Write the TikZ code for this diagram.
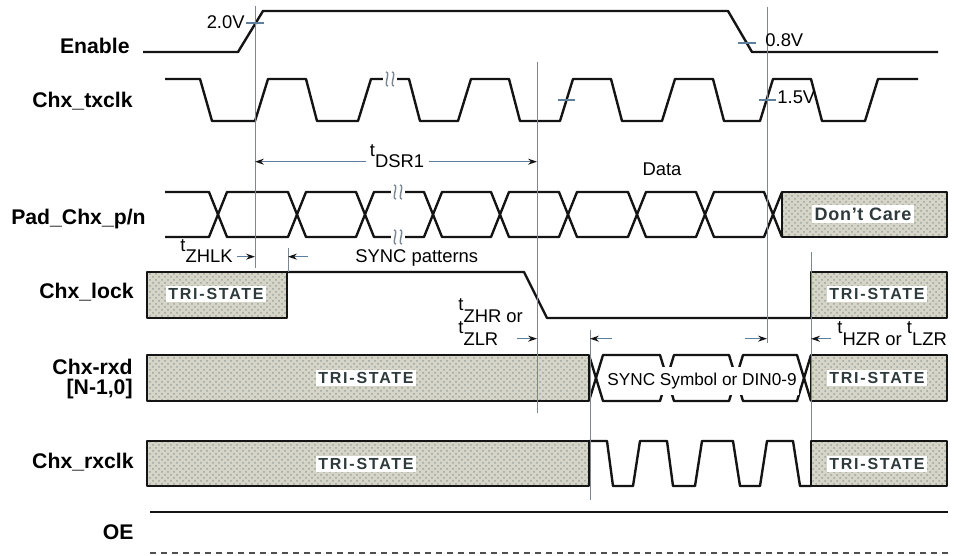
\documentclass[tikz,border=0pt]{standalone}
\usepackage{fontspec}
\setmainfont{Liberation Sans}
\usepackage{tikz}
\usetikzlibrary{arrows.meta,patterns}
\definecolor{wire}{HTML}{141414}
\definecolor{guidegray}{HTML}{7C8793}
\definecolor{dimblue}{HTML}{5E7E9E}
\definecolor{speck}{HTML}{D6D5C8}
\definecolor{speckdot}{HTML}{98A69E}
\definecolor{tristext}{HTML}{2E3A3B}
\newcommand{\tpre}[1]{\raisebox{0.6em}[0pt][0pt]{t}#1}
\newcommand{\brk}[2]{%
  \fill[white] (#1-7,#2-3) rectangle (#1+7,#2+3);
  \foreach \bx in {#1-3,#1+3}
    \draw[brkline] (\bx-1,#2-7) .. controls (\bx+4,#2-7) and (\bx-4,#2+7) .. (\bx+1,#2+7);}
\tikzset{
  sig/.style     = {draw=wire, line width=1.2pt, line join=round},
  hiz/.style     = {sig, preaction={fill=speck}, pattern=crosshatch dots, pattern color=speckdot},
  guide/.style   = {draw=guidegray, line width=0.5pt},
  lvl/.style     = {draw=dimblue, line width=0.8pt},
  brkline/.style = {draw=guidegray, line width=0.7pt},
  dim/.style     = {draw=dimblue, line width=0.6pt, -{Stealth[length=4.5pt, width=3pt, color=wire]}},
  lbl/.style     = {anchor=base east, inner sep=0pt, font={\fontsize{10.6}{10}\selectfont\bfseries}},
  txt/.style     = {inner sep=0pt, font={\fontsize{9.2}{10}\selectfont}},
  tris/.style    = {fill=white, inner sep=1.2pt, text=tristext,
                    font={\fontsize{8}{9}\selectfont\bfseries\addfontfeatures{LetterSpace=11}}},
}

\begin{document}
\begin{tikzpicture}[x=0.5pt, y=-0.5pt]
  \useasboundingbox (0,0) rectangle (954,556);

  \node[lbl] (en)   at (130,54)  {Enable};
  \node[lbl] (txc)  at (133,108) {Chx\_txclk};
  \node[lbl] (pad)  at (146,225) {Pad\_Chx\_p/n};
  \node[lbl] (lock) at (134,298) {Chx\_lock};
  \node[lbl, anchor=north east, align=right] (rxd) at (133,359) {Chx-rxd\\{[N-1,0]}};
  \node[lbl] (rxc)  at (134,468) {Chx\_rxclk};
  \node[lbl] (oe)   at (134,539) {OE};

  \draw[sig] (143,52) -- (238,52) -- (263,11) -- (728,11) -- (752,52) -- (938,52);

  \draw[sig] (165,79) -- (200,79) -- (212,121)
    foreach \r in {255,358,458,560,662,760} { -- (\r,121) -- (\r+13,79) -- (\r+51,79) -- (\r+62,121) }
    -- (865,121) -- (878,79) -- (918,79);

  \draw[sig] (165,192) -- (209,192) -- (218,214.5) -- (209,237) -- (165,237);
  \foreach \a/\b in {218/297,297/365,365/433,433/500,500/568,568/637,637/705,705/773}
    \draw[sig] (\a,214.5) -- (\a+9,192) -- (\b-9,192) -- (\b,214.5) -- (\b-9,237) -- (\a+9,237) -- cycle;
  \draw[sig] (782,192) -- (773,214.5) -- (782,237);
  \draw[hiz] (782,192) rectangle (947,237);

  \draw[hiz] (147,272) rectangle (287,318);
  \draw[sig] (287,272) -- (524,272) -- (547,318) -- (811,318);
  \draw[hiz] (811,272) rectangle (947,318);

  \draw[hiz] (147,355) rectangle (589,401);
  \draw[sig] (589,355) -- (596,378) -- (589,401);
  \foreach \a/\b in {596/667,667/736,736/804}
    \draw[sig] (\a,378) -- (\a+7,355) -- (\b-7,355) -- (\b,378) -- (\b-7,401) -- (\a+7,401) -- cycle;
  \draw[sig] (811,355) -- (804,378) -- (811,401);
  \draw[hiz] (811,355) rectangle (947,401);

  \draw[hiz] (147,441) rectangle (589,486);
  \draw[sig] (589,441) -- (607,441) -- (613,486) -- (633,486) -- (640,441) -- (667,441) -- (673,486)
    -- (695,486) -- (702,441) -- (733,441) -- (740,486) -- (760,486) -- (767,441) -- (793,441) -- (800,486) -- (811,486);
  \draw[hiz] (811,441) rectangle (947,486);

  \draw[sig] (150,512) -- (948,512);
  \draw[sig, draw=wire!75, dash pattern=on 3pt off 2.5pt] (150,553) -- (948,553);

  \foreach \n/\x/\ya/\yb in {1/255/6/268, 2/537/62/413, 3/767/7/343, 4/811/252/440, 5/590/330/500, 6/288/248/272}
    \draw[guide] (\x,\ya) coordinate (g\n) -- (\x,\yb);

  \brk{390}{79}
  \brk{398}{192}
  \brk{398}{237}

  \draw[lvl] (246,23) -- (264,23);
  \draw[lvl] (738,43) -- (756,43);
  \draw[lvl] (558,100) -- (575,100);
  \draw[lvl] (759,100) -- (776,100);
  \node[txt, anchor=base east] (v20) at (245,29) {2.0V};
  \node[txt, anchor=base west] (v08) at (765,47) {0.8V};
  \node[txt, anchor=base west] (v15) at (777,104) {1.5V};

  \node[tris, font={\fontsize{9}{10}\selectfont\bfseries\addfontfeatures{LetterSpace=4}}] (dc) at (863,214) {Don't Care};
  \node[txt, anchor=base] (data) at (662,176) {Data};
  \node[tris] (ts1) at (216,294) {TRI-STATE};
  \node[tris] (ts2) at (877,294) {TRI-STATE};
  \node[tris] (ts3) at (366,378) {TRI-STATE};
  \node[tris] (ts4) at (877,378) {TRI-STATE};
  \node[tris] (ts5) at (366,464) {TRI-STATE};
  \node[tris] (ts6) at (877,464) {TRI-STATE};
  \node[txt, fill=white, inner xsep=1pt, inner ysep=3pt, anchor=base west, font={\fontsize{8.6}{9}\selectfont}] (sym) at (605,385) {SYNC Symbol or DIN0-9};

  \node[txt, anchor=base, inner xsep=2pt] (dsr) at (397,168) {\tpre{DSR1}};
  \draw[dim] (dsr.west) -- (dsr.west -| g1);
  \draw[dim] (dsr.east) -- (dsr.east -| g2);

  \node[txt, anchor=base west, inner xsep=2pt] (zhlk) at (176,263) {\tpre{ZHLK}};
  \node[txt, anchor=base west] (syncp) at (355,263) {SYNC patterns};
  \draw[dim] (zhlk.east) -- (zhlk.east -| g1);
  \coordinate (a6) at (zhlk.east -| g6);
  \draw[dim] ([xshift=10pt]a6) -- (a6);

  \node[txt, anchor=base west] (zhr) at (458,322) {\tpre{ZHR or}};
  \node[txt, anchor=base west] (zlr) at (458,345) {\tpre{ZLR}};
  \coordinate (a2) at (zlr.east -| g2);
  \draw[dim] ([xshift=-10pt]a2) -- (a2);
  \coordinate (a5) at (zlr.east -| g5);
  \draw[dim] ([xshift=11pt]a5) -- (a5);
  \coordinate (a3) at (zlr.east -| g3);
  \draw[dim] ([xshift=-11pt]a3) -- (a3);
  \node[txt, anchor=base west] (hzr) at (837,345) {\tpre{HZR or }\tpre{LZR}};
  \draw[dim] ([xshift=-3pt]hzr.west) -- (hzr.west -| g4);
\end{tikzpicture}
\end{document}
